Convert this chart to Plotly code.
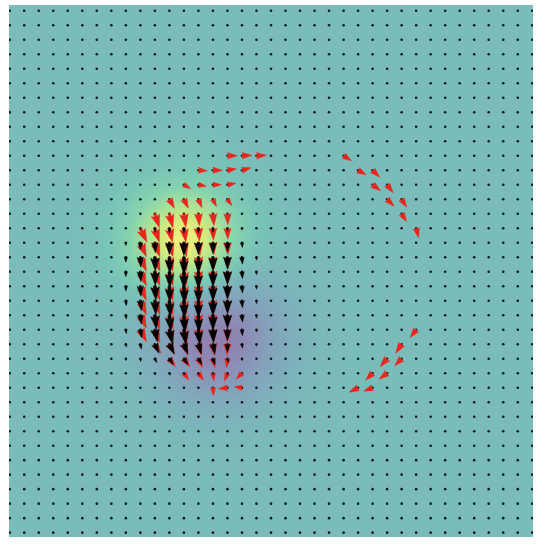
import numpy as np
import plotly.graph_objects as go

GRID_N = 37  # sample points per side

# Scalar field on the sample grid: rows 8-31, columns 5-22 (zero elsewhere)
FIELD_ROW0 = 8
FIELD_COL0 = 5
field_rows = [
    [0, 0, 0, 0, 0, 0.01, 0.01, 0.01, 0.01, 0.01, 0, 0, 0, 0, 0, 0, 0, 0],
    [0, 0, 0, 0.01, 0.01, 0.02, 0.03, 0.03, 0.03, 0.02, 0.01, 0.01, 0, 0, 0, 0, 0, 0],
    [0, 0, 0.01, 0.02, 0.04, 0.05, 0.07, 0.07, 0.07, 0.05, 0.04, 0.02, 0.01, 0, 0, 0, 0, 0],
    [0, 0.01, 0.02, 0.05, 0.08, 0.12, 0.15, 0.16, 0.15, 0.12, 0.08, 0.05, 0.02, 0.01, 0, 0, 0, 0],
    [0.01, 0.02, 0.05, 0.09, 0.16, 0.23, 0.28, 0.31, 0.28, 0.23, 0.16, 0.09, 0.05, 0.02, 0.01, 0, 0, 0],
    [0.01, 0.04, 0.08, 0.16, 0.26, 0.38, 0.47, 0.51, 0.47, 0.38, 0.26, 0.15, 0.08, 0.03, 0.01, 0, 0, 0],
    [0.02, 0.05, 0.12, 0.23, 0.38, 0.55, 0.68, 0.73, 0.68, 0.54, 0.37, 0.22, 0.11, 0.05, 0.02, 0, 0, 0],
    [0.02, 0.06, 0.14, 0.28, 0.47, 0.68, 0.84, 0.90, 0.83, 0.66, 0.44, 0.25, 0.12, 0.05, 0.02, 0, 0, 0],
    [0.03, 0.07, 0.15, 0.30, 0.50, 0.72, 0.89, 0.94, 0.86, 0.67, 0.44, 0.24, 0.11, 0.04, 0.01, 0, 0, 0],
    [0.02, 0.06, 0.14, 0.27, 0.45, 0.64, 0.78, 0.82, 0.73, 0.55, 0.34, 0.16, 0.05, 0, -0.02, -0.02, -0.01, 0],
    [0.02, 0.05, 0.10, 0.20, 0.33, 0.46, 0.55, 0.56, 0.46, 0.30, 0.14, 0.01, -0.05, -0.07, -0.05, -0.03, -0.02, -0.01],
    [0.01, 0.03, 0.06, 0.11, 0.18, 0.24, 0.26, 0.22, 0.12, -0.01, -0.12, -0.18, -0.18, -0.15, -0.10, -0.06, -0.03, -0.01],
    [0, 0.01, 0.02, 0.03, 0.04, 0.03, -0.02, -0.10, -0.22, -0.32, -0.38, -0.38, -0.32, -0.24, -0.15, -0.09, -0.04, -0.02],
    [0, 0, -0.01, -0.03, -0.06, -0.13, -0.23, -0.36, -0.48, -0.57, -0.59, -0.54, -0.43, -0.31, -0.20, -0.11, -0.06, -0.03],
    [0, -0.01, -0.03, -0.06, -0.13, -0.22, -0.36, -0.50, -0.64, -0.71, -0.71, -0.63, -0.50, -0.35, -0.22, -0.13, -0.06, -0.03],
    [-0.01, -0.01, -0.04, -0.08, -0.15, -0.25, -0.39, -0.55, -0.67, -0.74, -0.73, -0.65, -0.51, -0.36, -0.23, -0.13, -0.06, -0.03],
    [-0.01, -0.01, -0.03, -0.07, -0.14, -0.24, -0.37, -0.50, -0.62, -0.68, -0.66, -0.58, -0.46, -0.32, -0.20, -0.11, -0.06, -0.03],
    [0, -0.01, -0.03, -0.06, -0.12, -0.20, -0.30, -0.41, -0.50, -0.55, -0.54, -0.47, -0.37, -0.26, -0.16, -0.09, -0.05, -0.02],
    [0, -0.01, -0.02, -0.04, -0.08, -0.14, -0.22, -0.29, -0.36, -0.39, -0.38, -0.34, -0.26, -0.18, -0.12, -0.06, -0.03, -0.01],
    [0, -0.01, -0.01, -0.03, -0.05, -0.09, -0.14, -0.19, -0.23, -0.25, -0.25, -0.22, -0.17, -0.12, -0.07, -0.04, -0.02, -0.01],
    [0, 0, -0.01, -0.02, -0.03, -0.05, -0.08, -0.11, -0.13, -0.14, -0.14, -0.12, -0.10, -0.07, -0.04, -0.02, -0.01, -0.01],
    [0, 0, 0, -0.01, -0.02, -0.03, -0.04, -0.06, -0.07, -0.07, -0.07, -0.06, -0.05, -0.03, -0.02, -0.01, -0.01, 0],
    [0, 0, 0, 0, -0.01, -0.01, -0.02, -0.03, -0.03, -0.03, -0.03, -0.03, -0.02, -0.02, -0.01, -0.01, 0, 0],
    [0, 0, 0, 0, 0, 0, -0.01, -0.01, -0.01, -0.01, -0.01, -0.01, -0.01, -0.01, 0, 0, 0, 0],
]

# Black vector field: rows 15-25, columns 8-17 (zero vectors elsewhere)
BLACK_ROW0 = 15
BLACK_COL0 = 8
black_u_rows = [
    [0, 0, 0, 0, 0, 0, 0, 0, 0, 0],
    [0, 0, 0.5, 0, 0, 0, 0, 0, 0.5, 0],
    [0, 0.5, 0.5, 0.5, 0, 0, 0, 0, 0.5, 0],
    [0, 0.5, 0.5, 0.5, 0, 0, 0, 0, 0.5, 0],
    [0, 0.5, 1, 0.5, 0.5, 0, 0, 0, 0.5, 0],
    [0.5, 1, 1, 1, 0.5, 0, 0, 0, 0.5, 0],
    [0.5, 1, 1.5, 1.5, 1, 0.5, 0, 0, 0.5, 0],
    [0.5, 1.5, 2.5, 3, 2, 1.5, 0.5, 0, 0.5, 0],
    [0.5, 1, 4, 5, 4, 3, 2, 0, 0.5, 0],
    [0, 0.5, 2, 4, 4, 3.5, 2, 1, 0, 0],
    [0, 0, 0.5, 1, 1, 1, 0.5, 0, 0, 0],
]
black_v_rows = [
    [0, 2, 4, 5, 5, 5, 4, 3, 2, 0],
    [3, 7, 10, 12, 13, 12, 11, 9, 5, 0],
    [5, 10, 14, 16, 17, 16, 14, 12, 7, 3],
    [5, 10, 14, 16, 17, 17, 15, 13, 7, 3],
    [5, 10, 14, 16, 17, 17, 15, 13, 7, 3],
    [5, 10, 14, 16, 17, 17, 15, 13, 7, 3],
    [4, 9, 14, 16, 17, 17, 15, 13, 7, 3],
    [4, 8, 12, 14, 15, 15, 13, 11, 6, 2.5],
    [3, 5, 9, 10, 10, 10, 10, 8, 4, 2],
    [2, 3, 4, 6, 6, 6, 6, 4, 2, 0],
    [0, 1.5, 2, 2, 2, 2, 2, 2, 0, 0],
]

# Red vector field, given only at the points where it is drawn
red_col = [15, 16, 17,
           13, 14, 15, 16,
           12, 13, 14, 15,
           11, 12, 13, 14, 15,
           10, 11, 12, 13, 14, 15,
           9, 10, 11, 12, 13, 14, 15,
           9, 10, 11, 12, 13, 14, 15,
           9, 10, 11, 12, 13, 14, 15,
           9, 10, 11, 12, 13, 14, 15,
           9, 10, 11, 12, 13, 14, 15,
           9, 10, 11, 12, 13, 14, 15,
           9, 10, 11, 12, 13, 14, 15,
           9, 10, 11, 12, 13, 14, 15,
           10, 11, 12, 13, 14, 15,
           11, 12, 13, 14, 15,
           12, 13, 14, 15, 16,
           14, 15, 16,
           23, 24, 25, 25, 26, 26, 27, 27, 28,
           28, 27, 26, 27, 25, 26, 24, 25]
red_row = [10, 10, 10,
           11, 11, 11, 11,
           12, 12, 12, 12,
           13, 13, 13, 13, 13,
           14, 14, 14, 14, 14, 14,
           15, 15, 15, 15, 15, 15, 15,
           16, 16, 16, 16, 16, 16, 16,
           17, 17, 17, 17, 17, 17, 17,
           18, 18, 18, 18, 18, 18, 18,
           19, 19, 19, 19, 19, 19, 19,
           20, 20, 20, 20, 20, 20, 20,
           21, 21, 21, 21, 21, 21, 21,
           22, 22, 22, 22, 22, 22, 22,
           23, 23, 23, 23, 23, 23,
           24, 24, 24, 24, 24,
           25, 25, 25, 25, 25,
           26, 26, 26,
           10, 11, 11, 12, 12, 13, 13, 14, 15,
           22, 23, 24, 24, 25, 25, 26, 26]
red_u = [10, 10, 10,
         9, 9.5, 9, 9,
         7, 8, 8.5, 8.5,
         5, 4.5, 3.5, 3.5, 4.5,
         4.5, 3.5, 2, 1, 1, 0.5,
         6.5, 4.5, 3, 2, 1, 0.5, 0.5,
         6, 5, 3.5, 2.5, 1.5, 1, 0.5,
         6, 5, 3.5, 2.5, 1.5, 1, 0.5,
         6, 5, 3.5, 2.5, 1.5, 1, 0.5,
         6, 5, 3.5, 2.5, 1.5, 1, 0.5,
         6, 5, 3.5, 2.5, 1.5, 1, 0.5,
         6, 5, 3.5, 2.5, 1.5, 1, 0,
         6, 5, 4, 3, 2, 1, 0,
         6, 5, 4, 3, 1.5, -0.5,
         6, 6, 4, 2, -1,
         5, 5, 1, -3, -6,
         0.5, -9, -8,
         8, 8, 7, 8, 6, 7, 5, 5, 2.5,
         -6, -6, -7, -7, -7, -8, -9, -9]
red_v = [0, -0.5, -0.5,
         0.5, 0, -1.5, -2.5,
         4, 1.5, 0, -1.5,
         9, 9, 8.5, 7.5, 6.5,
         14, 14, 13.5, 12, 12, 11,
         14, 14, 14, 14, 13, 12, 11,
         14, 14, 14, 14, 13, 12, 12,
         14, 14, 14, 14, 13, 12, 12,
         14, 14, 14, 14, 13, 12, 12,
         14, 14, 14, 14, 13, 12, 12,
         14, 14, 14, 14, 13, 12, 12,
         13, 14, 14, 14, 13, 12, 12,
         12, 13, 14, 14, 13, 12, 12,
         9, 10, 11, 11, 11, 11,
         8, 8, 9, 9, 9,
         7, 7, 8, 8, 6,
         8, 1, -1,
         5, 4.5, 7, 6, 8, 7, 8, 8, 9.5,
         8, 9, 8, 7, 7, 6, 4.5, 3.5]

ARROW_SCALE = 1 / 14.5          # vector units -> grid units
BLACK = "#000000"
RED = "#e8261e"

# ---------------------------------------------------------------- field grid
z = np.zeros((GRID_N, GRID_N))
field = np.array(field_rows)
z[FIELD_ROW0:FIELD_ROW0 + field.shape[0], FIELD_COL0:FIELD_COL0 + field.shape[1]] = field

grid = np.arange(GRID_N)

# --------------------------------------------------------- arrow geometry
def arrow_polygons(x0, y0, u, v, scale,
                   shaft_half=0.1, head_half=0.3, head_len=0.9, head_axis=0.8):
    """Filled quiver-style arrows, tail anchored, as one None-separated path."""
    xs, ys = [], []
    for xa, ya, ua, va in zip(x0, y0, u, v):
        length = float(np.hypot(ua, va)) * scale
        if length < 1e-6:
            continue
        ux, uy = ua * scale / length, va * scale / length
        px, py = -uy, ux
        s = min(1.0, length / head_len)
        sw, hw, hl, ha = shaft_half * s, head_half * s, head_len * s, head_axis * s
        outline = [(0, sw), (length - ha, sw), (length - hl, hw), (length, 0),
                   (length - hl, -hw), (length - ha, -sw), (0, -sw), (0, sw)]
        for a, b in outline:
            xs.append(xa + a * ux + b * px)
            ys.append(ya + a * uy + b * py)
        xs.append(None)
        ys.append(None)
    return xs, ys


bu = np.array(black_u_rows)
bv = np.array(black_v_rows)
b_rows, b_cols = np.meshgrid(np.arange(bu.shape[0]) + BLACK_ROW0,
                             np.arange(bu.shape[1]) + BLACK_COL0, indexing="ij")
bx, by = arrow_polygons(b_cols.ravel(), b_rows.ravel(), bu.ravel(), bv.ravel(), ARROW_SCALE)
rx, ry = arrow_polygons(red_col, red_row, red_u, red_v, ARROW_SCALE)

gx, gy = np.meshgrid(grid, grid)

fig = go.Figure()
fig.add_trace(go.Heatmap(
    x=grid, y=grid, z=z,
    colorscale="Viridis", zmin=-1, zmax=1,
    zsmooth="best", opacity=0.6, showscale=False, hoverinfo="skip",
))
# zero-length vectors of the black field show as dots
fig.add_trace(go.Scatter(
    x=gx.ravel(), y=gy.ravel(), mode="markers",
    marker=dict(size=2.6, color="#0b1a1e", line=dict(width=0)),
    hoverinfo="skip", showlegend=False,
))
fig.add_trace(go.Scatter(
    x=rx, y=ry, mode="lines", fill="toself", fillcolor=RED,
    line=dict(color=RED, width=0.4), hoverinfo="skip", showlegend=False,
))
fig.add_trace(go.Scatter(
    x=bx, y=by, mode="lines", fill="toself", fillcolor=BLACK,
    line=dict(color=BLACK, width=0.4), hoverinfo="skip", showlegend=False,
))

fig.update_layout(
    width=542, height=544,
    margin=dict(l=9, r=9, t=5, b=7),
    paper_bgcolor="white",
    plot_bgcolor="white",
    showlegend=False,
    xaxis=dict(range=[-0.05, 36.05], visible=False, fixedrange=True),
    yaxis=dict(range=[36.3, -0.4], visible=False, fixedrange=True),
)

fig.write_html("out.html")
